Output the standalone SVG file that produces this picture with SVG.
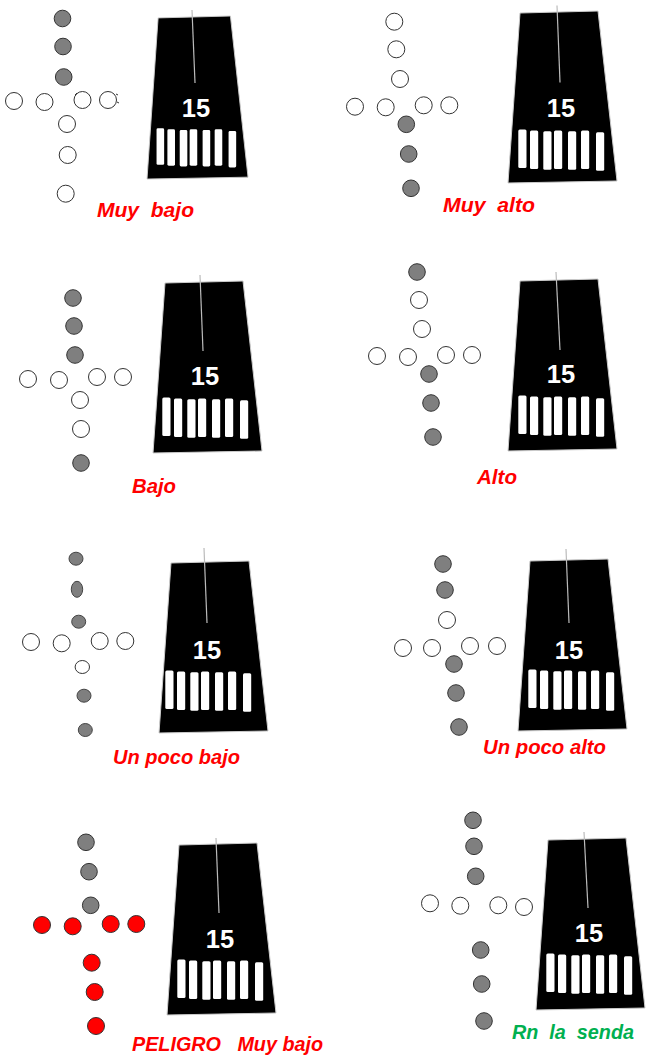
<svg xmlns="http://www.w3.org/2000/svg" width="650" height="1063" viewBox="0 0 650 1063">
<style>
.g{fill:#7f7f7f;stroke:#333;stroke-width:1}
.h{fill:#fff;stroke:#333;stroke-width:1}
.r{fill:#f00;stroke:#333;stroke-width:1}
.p{fill:#7f7f7f;stroke:#444;stroke-width:1}
.n{font:bold 25.5px "Liberation Sans",Arial,sans-serif;fill:#fff;text-anchor:middle}
.l{font:italic bold 20px "Liberation Sans",Arial,sans-serif;fill:#f00;white-space:pre}
.v{fill:#00b050}
.m{fill:none;stroke:#333;stroke-width:1}
.c{stroke:#bbb;stroke-width:1.2}
</style>
<defs>
<polygon id="road" points="12,2 90,0 109,170 0,172" fill="#000" stroke="#ccc" stroke-width="1"/>
<g id="bars" fill="#fff">
<rect x="10.3" y="118.5" width="8.2" height="38.5" rx="1.5"/>
<rect x="22" y="119.5" width="8.2" height="38.5" rx="1.5"/>
<rect x="35.3" y="120.3" width="8.2" height="38.5" rx="1.5"/>
<rect x="46" y="119.5" width="8.2" height="38.5" rx="1.5"/>
<rect x="60" y="120.3" width="8.2" height="38.5" rx="1.5"/>
<rect x="73" y="119.5" width="8.2" height="38.5" rx="1.5"/>
<rect x="88" y="121.3" width="8.2" height="38.5" rx="1.5"/>
</g>
</defs>
<g id="panel1">
<g id="lights1">
<circle class="g" cx="62.5" cy="18.5" r="8.3"/><circle class="g" cx="63" cy="46.5" r="8.3"/><circle class="g" cx="63.7" cy="77" r="8.3"/>
<circle class="h" cx="14" cy="101" r="8.5"/><circle class="h" cx="44.5" cy="102" r="8.5"/><circle class="h" cx="82.5" cy="100" r="8.5"/><circle class="h" cx="108" cy="100" r="8.5"/>
<circle class="h" cx="67" cy="124" r="8.5"/><circle class="h" cx="67.7" cy="155" r="8.5"/><circle class="h" cx="65.7" cy="193.7" r="8.5"/>
<path class="m" d="M75 95l2-2M116 94l2 1M117 102l2 1"/>
</g>
<g id="runway1" transform="translate(147,16)"><g transform="scale(.927,.948)"><use href="#road"/><use href="#bars"/></g><line class="c" x1="45" y1="-6" x2="48" y2="67"/><text class="n" x="49" y="100.5">15</text></g>
<text class="l" x="97" y="217" textLength="97" lengthAdjust="spacingAndGlyphs">Muy  bajo</text>
</g>
<g id="panel2">
<g id="lights2">
<circle class="h" cx="394.3" cy="21.7" r="8.5"/><circle class="h" cx="396.3" cy="49.3" r="8.5"/><circle class="h" cx="400" cy="79" r="8.5"/>
<circle class="h" cx="355" cy="106.7" r="8.5"/><circle class="h" cx="385.7" cy="107.3" r="8.5"/><circle class="h" cx="423.7" cy="105.3" r="8.5"/><circle class="h" cx="449.3" cy="105.3" r="8.5"/>
<circle class="g" cx="406.3" cy="124.3" r="8.3"/><circle class="g" cx="408.7" cy="154" r="8.3"/><circle class="g" cx="411" cy="188.3" r="8.3"/>
</g>
<g id="runway2" transform="translate(508,11)"><use href="#road"/><use href="#bars"/><line class="c" x1="49" y1="-5.5" x2="52" y2="71.5"/><text class="n" x="53" y="105.5">15</text></g>
<text class="l" x="443" y="212" textLength="92" lengthAdjust="spacingAndGlyphs">Muy  alto</text>
</g>
<g id="panel3">
<g id="lights3">
<circle class="g" cx="73" cy="298" r="8.3"/><circle class="g" cx="74" cy="326" r="8.3"/><circle class="g" cx="75" cy="355" r="8.3"/>
<circle class="h" cx="28" cy="379" r="8.5"/><circle class="h" cx="59" cy="380" r="8.5"/><circle class="h" cx="97" cy="377" r="8.5"/><circle class="h" cx="123" cy="377" r="8.5"/>
<circle class="h" cx="80" cy="400" r="8.5"/><circle class="h" cx="81" cy="429" r="8.5"/><circle class="g" cx="81" cy="463" r="8.3"/>
</g>
<g id="runway3" transform="translate(153,281)"><use href="#road"/><use href="#bars" x="-1" y="-2"/><line class="c" x1="47" y1="-6" x2="50" y2="70"/><text class="n" x="52" y="103.5">15</text></g>
<text class="l" x="132" y="493" textLength="44" lengthAdjust="spacingAndGlyphs">Bajo</text>
</g>
<g id="panel4">
<g id="lights4">
<circle class="g" cx="417" cy="272" r="8.3"/><circle class="h" cx="419" cy="300" r="8.5"/><circle class="h" cx="422" cy="329" r="8.5"/>
<circle class="h" cx="377" cy="356" r="8.5"/><circle class="h" cx="408" cy="357" r="8.5"/><circle class="h" cx="446" cy="355" r="8.5"/><circle class="h" cx="472" cy="355" r="8.5"/>
<circle class="g" cx="429" cy="374" r="8.3"/><circle class="g" cx="431" cy="403" r="8.3"/><circle class="g" cx="433" cy="437" r="8.3"/>
</g>
<g id="runway4" transform="translate(508,279)"><use href="#road"/><use href="#bars" y="-2"/><line class="c" x1="48" y1="-7" x2="52" y2="71"/><text class="n" x="53" y="103.5">15</text></g>
<text class="l" x="477" y="484" textLength="40" lengthAdjust="spacingAndGlyphs">Alto</text>
</g>
<g id="panel5">
<g id="lights5">
<ellipse class="p" cx="76" cy="558.7" rx="7" ry="6.5"/><ellipse class="p" cx="77" cy="589.3" rx="5.7" ry="8"/><ellipse class="p" cx="78.7" cy="621.7" rx="7" ry="6.5"/>
<circle class="h" cx="31" cy="642" r="8.5"/><circle class="h" cx="61.7" cy="643.3" r="8.5"/><circle class="h" cx="99.7" cy="641" r="8.5"/><circle class="h" cx="125.3" cy="641" r="8.5"/>
<ellipse class="h" cx="82.3" cy="667" rx="7.2" ry="6.5"/><ellipse class="p" cx="84" cy="695.7" rx="7" ry="6.5"/><ellipse class="p" cx="85.3" cy="730" rx="7" ry="6.5"/>
</g>
<g id="runway5" transform="translate(159,561)"><use href="#road"/><use href="#bars" x="-4" y="-9"/><line class="c" x1="45" y1="-13" x2="48" y2="62"/><text class="n" x="48" y="97.5">15</text></g>
<text class="l" x="113" y="764" textLength="127" lengthAdjust="spacingAndGlyphs">Un poco bajo</text>
</g>
<g id="panel6">
<g id="lights6">
<circle class="g" cx="443" cy="564" r="8.3"/><circle class="g" cx="445" cy="590" r="8.3"/><circle class="h" cx="447" cy="620" r="8.5"/>
<circle class="h" cx="403" cy="648" r="8.5"/><circle class="h" cx="432" cy="648" r="8.5"/><circle class="h" cx="470" cy="646" r="8.5"/><circle class="h" cx="497" cy="646" r="8.5"/>
<circle class="g" cx="454" cy="664" r="8.3"/><circle class="g" cx="456" cy="693" r="8.3"/><circle class="g" cx="459" cy="727" r="8.3"/>
</g>
<g id="runway6" transform="translate(518,559)"><use href="#road"/><use href="#bars" y="-8"/><line class="c" x1="48" y1="-10" x2="51" y2="64"/><text class="n" x="51" y="99.5">15</text></g>
<text class="l" x="483" y="754" textLength="123" lengthAdjust="spacingAndGlyphs">Un poco alto</text>
</g>
<g id="panel7">
<g id="lights7">
<circle class="g" cx="86" cy="842.3" r="8.3"/><circle class="g" cx="89" cy="871.7" r="8.3"/><circle class="g" cx="90.7" cy="905.3" r="8.3"/>
<circle class="r" cx="42" cy="925" r="8.5"/><circle class="r" cx="72.7" cy="926.3" r="8.5"/><circle class="r" cx="110.7" cy="924" r="8.5"/><circle class="r" cx="136.3" cy="924" r="8.5"/>
<circle class="r" cx="91.7" cy="962.7" r="8.5"/><circle class="r" cx="94.7" cy="992" r="8.5"/><circle class="r" cx="96" cy="1026" r="8.5"/>
</g>
<g id="runway7" transform="translate(167,843)"><use href="#road"/><use href="#bars" y="-2"/><line class="c" x1="49" y1="-5" x2="52" y2="70"/><text class="n" x="53" y="104.5">15</text></g>
<text class="l" x="132" y="1051" textLength="191" lengthAdjust="spacingAndGlyphs">PELIGRO   Muy bajo</text>
</g>
<g id="panel8">
<g id="lights8">
<circle class="g" cx="473" cy="820.3" r="8.3"/><circle class="g" cx="474" cy="846.3" r="8.3"/><circle class="g" cx="475.7" cy="876.3" r="8.3"/>
<circle class="h" cx="430" cy="903.3" r="8.5"/><circle class="h" cx="460.3" cy="905.7" r="8.5"/><circle class="h" cx="498.3" cy="905.3" r="8.5"/><circle class="h" cx="524" cy="907" r="8.5"/>
<circle class="g" cx="480.7" cy="950" r="8.3"/><circle class="g" cx="481.7" cy="984" r="8.3"/><circle class="g" cx="484" cy="1021" r="8.3"/>
</g>
<g id="runway8" transform="translate(536,838)"><use href="#road"/><use href="#bars" y="-3"/><line class="c" x1="48" y1="-6" x2="52" y2="70"/><text class="n" x="53" y="103.5">15</text></g>
<text class="l v" x="512" y="1039" textLength="122" lengthAdjust="spacingAndGlyphs">Rn  la  senda</text>
</g>
</svg>
